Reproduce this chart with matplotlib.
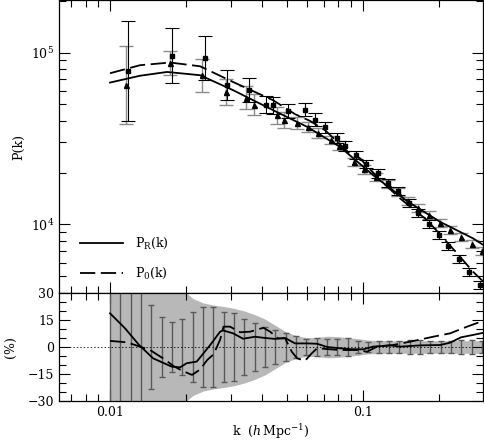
import numpy as np
import matplotlib
matplotlib.use('Agg')
import matplotlib.pyplot as plt
from matplotlib.ticker import LogLocator, FixedLocator, NullFormatter, MultipleLocator

plt.rcParams['font.family'] = ['DejaVu Serif']
plt.rcParams['mathtext.fontset'] = 'dejavuserif'
plt.rcParams['font.size'] = 9
plt.rcParams['lines.scale_dashes'] = False

# ---------- datos: panel superior ----------
# cuadrados (P_0) : k, P, error en dex
k_sq = [0.01178, 0.01759, 0.02376, 0.02904, 0.03549, 0.04144, 0.04416, 0.05063,
        0.05911, 0.06475, 0.07096, 0.07911, 0.08511, 0.09409, 0.1031, 0.1147,
        0.1259, 0.1379, 0.1525, 0.1655, 0.1830, 0.2004, 0.2176, 0.2405, 0.2634, 0.2912]
P_sq = [78200, 95500, 93000, 64600, 60400, 49840, 49240, 45570,
        46620, 40780, 36640, 31880, 28640, 25290, 22510, 19800,
        17460, 15620, 13250, 11680, 10000, 8665, 7510, 6285, 5302, 4437]
e_sq = [0.29, 0.16, 0.128, 0.089, 0.07, 0.05, 0.05, 0.04,
        0.035, 0.035, 0.03, 0.03, 0.03, 0.025, 0.025, 0.025,
        0.024, 0.024, 0.023, 0.023, 0.023, 0.023, 0.023, 0.023, 0.023, 0.023]

# triángulos (P_R)
k_tr = [0.01157, 0.0173, 0.02321, 0.02869, 0.03453, 0.0372, 0.04595, 0.04897,
        0.05482, 0.06083, 0.06654, 0.07495, 0.0808, 0.09239, 0.1012, 0.1126,
        0.1256, 0.1379, 0.1511, 0.1655, 0.1830, 0.2023, 0.2216, 0.2449, 0.2707, 0.2966]
P_tr = [65000, 87000, 73800, 58750, 54600, 49840, 43200, 40560,
        39080, 36790, 34090, 30920, 28720, 23120, 20880, 18910,
        17150, 15410, 13660, 12440, 11400, 10210, 9303, 8403, 7650, 7022]
e_tr = [0.228, 0.068, 0.097, 0.076, 0.067, 0.06, 0.05, 0.045,
        0.035, 0.03, 0.03, 0.025, 0.025, 0.025, 0.024, 0.024,
        0.023, 0.023, 0.023, 0.023, 0.023, 0.023, 0.023, 0.023, 0.023, 0.023]

# curvas modelo
k_R = [0.01, 0.01314, 0.01681, 0.02271, 0.03068, 0.04416, 0.06031, 0.08131,
       0.1099, 0.1497, 0.2023, 0.2732, 0.3002]
P_R = [66900, 73300, 77100, 73800, 60400, 46200, 36930, 28250,
       19340, 13660, 10350, 8290, 7580]
k_0 = [0.01, 0.01314, 0.01728, 0.02271, 0.03068, 0.03817, 0.04416, 0.05397,
       0.06187, 0.07096, 0.08747, 0.09757, 0.1171, 0.1405, 0.1797, 0.2362,
       0.2732, 0.3002]
P_0 = [75800, 84400, 87500, 83200, 67400, 58200, 52800, 43800,
       40000, 35300, 26400, 24200, 18100, 14160, 10590, 6780,
       5300, 4640]

# ---------- datos: panel inferior (%) ----------
k_bin = [0.0100, 0.01099, 0.01207, 0.01326, 0.01457, 0.01601, 0.01759, 0.01933,
         0.02124, 0.02333, 0.02564, 0.02817, 0.03095, 0.03400, 0.03736, 0.04105,
         0.04510, 0.04955, 0.05445, 0.05982, 0.06573, 0.07222, 0.07935, 0.08718,
         0.09579, 0.10525, 0.11564, 0.12705, 0.13960, 0.15338, 0.16852, 0.18516,
         0.20344, 0.22352, 0.24559, 0.26983, 0.29647]
err_bin = [40, 40, 40, 40, 23.3, 16.5, 13.7, 15.4, 19.3, 22.4, 22.4, 19.6,
           18.7, 15.6, 13.1, 11.0, 9.3, 8.0, 6.1, 4.2, 5.0, 4.7, 4.7, 4.8,
           3.5, 2.8, 3.2, 3.5, 3.6, 3.8, 3.8, 3.6, 3.6, 3.6, 3.7, 3.7, 3.6]
band_bin = [45, 45, 45, 45, 45, 45, 45, 32, 27, 24.5, 23.3, 22.5,
            21.5, 20, 18, 15.5, 12, 8.5, 6.3, 5.2, 5.3, 6.0, 5.8, 5.2,
            4.6, 3.8, 3.6, 3.5, 3.5, 3.5, 3.5, 3.5, 3.5, 3.5, 3.5, 3.5, 3.5]

k_res_R = [0.01, 0.01146, 0.01303, 0.0148, 0.01753, 0.01892, 0.02012, 0.02203,
           0.02487, 0.02725, 0.028, 0.03068, 0.0336, 0.03748, 0.04105, 0.04498,
           0.04926, 0.05397, 0.06019, 0.06595, 0.07226, 0.08131, 0.08907, 0.1003,
           0.1099, 0.1282, 0.1405, 0.1686, 0.2023, 0.2216, 0.2449, 0.2732, 0.3002]
res_R = [18.7, 10.4, 1.1, -6.3, -10.9, -11.3, -9.0, -8.1,
         1.0, 8.5, 9.2, 7.6, 4.6, 5.7, 5.0, 4.5,
         5.0, 2.0, 2.0, 1.8, 0.0, -0.7, -1.2, -1.3,
         0.2, 0.9, 0.2, 0.9, 1.1, 2.4, 5.4, 6.7, 7.9]
k_res_0 = [0.01, 0.01165, 0.01314, 0.0144, 0.0165, 0.01778, 0.01949, 0.02111,
           0.02271, 0.02424, 0.0257, 0.02725, 0.02812, 0.02985, 0.03269, 0.03581,
           0.04045, 0.04298, 0.04622, 0.04926, 0.05236, 0.05495, 0.05911, 0.06283,
           0.06595, 0.08131, 0.09496, 0.104, 0.1139, 0.1318, 0.1581, 0.1898,
           0.2216, 0.2587, 0.3002]
res_0 = [3.4, 2.6, 0.2, -1.7, -7.0, -10.5, -13.5, -15.5,
         -12.5, -7.2, -4.0, 4.0, 11.3, 11.3, 8.2, 8.5,
         10.7, 8.5, 4.8, 4.8, -2.6, -6.3, -7.6, -3.5,
         -0.7, -1.7, -1.7, -2.6, 0.2, 1.1, 3.3, 5.7,
         7.6, 11.3, 14.6]

# ---------- figura ----------
fig = plt.figure(figsize=(4.85, 4.41), dpi=100)
ax1 = fig.add_axes([59/485, 1 - 293/441, 424/485, 293/441 - 0.001])
ax2 = fig.add_axes([59/485, 1 - 401/441, 424/485, 108/441], sharex=ax1)

dash = (0, (11, 4))

# panel superior
k_sq_a, P_sq_a, e_sq_a = np.array(k_sq), np.array(P_sq), np.array(e_sq)
k_tr_a, P_tr_a, e_tr_a = np.array(k_tr), np.array(P_tr), np.array(e_tr)
ax1.errorbar(k_tr_a, P_tr_a,
             yerr=[P_tr_a - P_tr_a*10**(-e_tr_a), P_tr_a*10**e_tr_a - P_tr_a],
             fmt='^', ms=3.6, color='black', ecolor='0.55', elinewidth=1.0,
             capsize=5, capthick=1.0)
ax1.errorbar(k_sq_a, P_sq_a,
             yerr=[P_sq_a - P_sq_a*10**(-e_sq_a), P_sq_a*10**e_sq_a - P_sq_a],
             fmt='s', ms=3.3, color='black', ecolor='black', elinewidth=0.8,
             capsize=5, capthick=0.8)
ax1.plot(k_R, P_R, color='black', lw=1.3, label=r'P$_{\rm R}$(k)')
ax1.plot(k_0, P_0, color='black', lw=1.3, linestyle=dash, label=r'P$_0$(k)')

ax1.set_xscale('log')
ax1.set_yscale('log')
ax1.set_xlim(0.00628, 0.299)
ax1.set_ylim(3990, 2.01e5)
ax1.set_ylabel('P(k)', labelpad=4)
ax1.legend(loc='lower left', bbox_to_anchor=(0.05, 0.04), frameon=False,
           handlelength=3.4, handletextpad=1.0, labelspacing=1.2,
           borderpad=0, borderaxespad=0)

# panel inferior
ax2.fill_between(k_bin, -np.array(band_bin), band_bin, color='0.72', lw=0)
ax2.errorbar(k_bin, np.zeros(len(k_bin)), yerr=err_bin, fmt='none',
             ecolor='0.35', elinewidth=1.0, capsize=2.5, capthick=1.0)
ax2.axhline(0, color='black', lw=0.6, linestyle=(0, (1, 1.5)))
ax2.plot(k_res_R, res_R, color='black', lw=1.3)
ax2.plot(k_res_0, res_0, color='black', lw=1.3, linestyle=dash)
ax2.set_ylim(-30, 30)
ax2.yaxis.set_major_locator(FixedLocator([-30, -15, 0, 15, 30]))
ax2.yaxis.set_minor_locator(MultipleLocator(5))
ax2.set_yticklabels(['\u221230', '\u221215', '0', '15', '30'])
ax2.set_ylabel('(%)', labelpad=8)
ax2.set_xlabel(r'k  ($h\,$Mpc$^{-1}$)', labelpad=2)

ax2.xaxis.set_major_locator(FixedLocator([0.01, 0.1]))
ax2.xaxis.set_minor_locator(LogLocator(base=10, subs=np.arange(2, 10)))
ax2.set_xticklabels(['0.01', '0.1'])
ax2.xaxis.set_minor_formatter(NullFormatter())
ax1.tick_params(axis='x', which='both', labelbottom=False)

for ax in (ax1, ax2):
    ax.tick_params(which='both', direction='in', top=True, right=True, width=0.8)
    ax.tick_params(which='major', length=8)
    ax.tick_params(which='minor', length=5)
    for s in ax.spines.values():
        s.set_linewidth(0.9)

fig.savefig('out.png', dpi=100)
